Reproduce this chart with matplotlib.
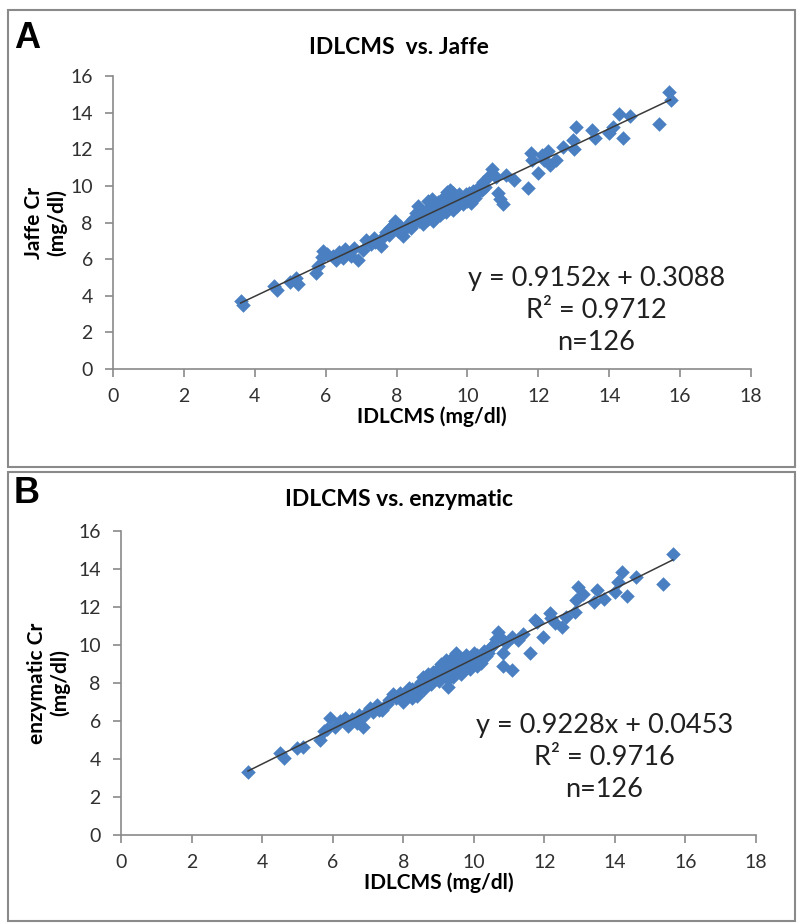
import matplotlib
matplotlib.use("Agg")
import matplotlib.pyplot as plt
from matplotlib.patches import Rectangle
import numpy as np

# IDLCMS vs. Jaffe (panel A)
jaffe_x = [3.60, 3.68, 4.55, 4.62, 4.98, 5.15, 5.22, 5.72, 5.78, 5.92, 5.90, 6.05, 6.28, 6.38, 6.50,
           6.55, 6.72, 6.80, 6.90, 7.05, 7.15, 7.28, 7.40, 7.55, 7.62, 7.70, 7.82, 7.90, 7.97, 8.05,
           8.18, 8.25, 8.35, 8.45, 8.55, 8.62, 8.68, 8.75, 8.82, 8.88, 8.95, 9.00, 9.04, 9.08, 9.12,
           9.18, 9.22, 9.28, 9.32, 9.38, 9.43, 9.48, 9.50, 9.55, 9.60, 9.65, 9.72, 9.80, 9.88, 9.95,
           10.05, 10.10, 10.20, 10.30, 10.40, 10.45, 10.60, 10.70, 10.80, 10.85, 10.92, 11.00, 11.10, 11.30, 11.70,
           11.78, 11.82, 12.00, 12.15, 12.28, 12.32, 12.50, 12.70, 12.98, 13.00, 13.05, 13.50, 13.60, 14.00, 14.10,
           14.27, 14.40, 14.60, 15.40, 15.68, 15.73, 8.10, 8.40, 8.50, 8.70, 8.80, 8.90, 9.00, 9.10, 9.15,
           9.25, 9.30, 9.35, 9.40, 9.45, 9.52, 9.58, 9.62, 9.70, 9.75, 9.85, 9.92, 10.00, 10.15, 10.25,
           10.50, 7.35, 6.20, 7.80, 8.60, 12.10]
jaffe_y = [3.70, 3.50, 4.55, 4.30, 4.75, 4.95, 4.65, 5.25, 5.60, 6.45, 6.10, 6.30, 5.95, 6.40, 6.05,
           6.55, 6.15, 6.60, 5.95, 6.50, 7.05, 6.80, 6.95, 6.70, 7.20, 7.50, 7.70, 7.85, 8.10, 7.55,
           7.25, 7.65, 7.95, 8.20, 8.50, 8.10, 8.70, 7.90, 8.35, 9.15, 8.85, 8.45, 8.10, 9.00, 8.65,
           9.10, 8.40, 8.85, 9.35, 8.75, 9.65, 9.20, 9.80, 8.95, 8.70, 9.45, 9.10, 9.40, 9.00, 9.55,
           9.60, 9.05, 9.35, 9.90, 9.80, 10.20, 10.55, 10.90, 10.50, 9.60, 9.30, 9.00, 10.60, 10.30, 9.90,
           11.80, 11.40, 10.70, 11.40, 11.90, 11.15, 11.40, 12.10, 12.50, 12.00, 13.20, 13.05, 12.60, 12.90, 13.20,
           13.90, 12.60, 13.80, 13.40, 15.14, 14.70, 7.80, 7.70, 8.00, 8.30, 8.60, 8.20, 9.30, 8.30, 8.80,
           9.20, 8.55, 9.00, 8.60, 9.40, 9.05, 9.60, 9.25, 8.90, 9.55, 9.20, 9.35, 9.20, 9.70, 9.55,
           9.95, 7.15, 6.15, 7.30, 8.90, 11.70]

# IDLCMS vs. enzymatic (panel B)
enz_x = [3.60, 4.50, 4.62, 4.98, 5.16, 5.64, 5.75, 5.92, 6.06, 6.35, 6.43, 6.68, 6.86, 6.86, 7.05,
         7.25, 7.40, 7.70, 7.90, 8.00, 8.24, 8.24, 8.56, 8.75, 8.84, 9.03, 9.26, 9.30, 9.50, 9.60,
         9.45, 9.65, 10.08, 10.08, 10.40, 10.45, 10.70, 10.74, 10.83, 10.83, 11.07, 11.07, 11.25, 11.60, 11.73,
         11.80, 11.95, 12.15, 12.30, 12.50, 12.60, 12.86, 12.90, 12.95, 13.40, 13.50, 14.00, 14.10, 14.20, 14.35,
         14.60, 15.35, 15.64, 6.20, 6.55, 7.15, 7.55, 7.80, 8.10, 8.35, 8.45, 8.60, 8.70, 8.80, 8.90,
         8.95, 9.00, 9.08, 9.12, 9.18, 9.22, 9.28, 9.33, 9.38, 9.42, 9.48, 9.52, 9.55, 9.62, 9.68,
         9.72, 9.78, 9.82, 9.88, 9.92, 9.98, 10.02, 10.15, 10.20, 10.28, 10.35, 10.55, 10.62, 8.50, 8.65,
         8.85, 9.05, 9.15, 9.35, 9.58, 9.75, 8.15, 7.95, 7.60, 7.30, 6.95, 6.75, 5.85, 10.90, 11.40,
         12.20, 13.10, 13.70, 9.90, 9.20, 8.40]
enz_y = [3.30, 4.30, 4.05, 4.60, 4.62, 5.00, 5.50, 6.15, 5.70, 6.15, 5.75, 5.90, 5.70, 6.20, 6.70,
         6.85, 6.60, 7.40, 7.50, 7.00, 7.20, 7.70, 8.30, 8.00, 8.60, 8.85, 7.80, 8.40, 9.60, 9.10,
         8.85, 8.50, 9.50, 8.90, 9.60, 9.85, 10.70, 10.40, 9.60, 8.90, 8.70, 10.40, 10.25, 9.60, 11.30,
         11.20, 10.40, 11.70, 11.15, 10.95, 11.50, 11.75, 12.35, 13.05, 12.25, 12.90, 12.80, 13.30, 13.85, 12.60,
         13.60, 13.20, 14.80, 6.00, 6.10, 6.50, 6.90, 7.20, 7.45, 7.55, 7.90, 7.70, 8.50, 7.95, 8.25,
         8.70, 8.10, 9.00, 8.40, 8.75, 9.20, 8.20, 8.95, 9.30, 8.30, 9.10, 8.65, 9.40, 8.95, 9.25,
         8.70, 9.45, 9.00, 8.75, 9.30, 9.10, 9.60, 9.35, 9.05, 9.70, 9.40, 10.00, 10.30, 8.05, 8.20,
         8.40, 8.55, 9.05, 8.60, 8.80, 9.15, 7.75, 7.30, 7.10, 6.60, 6.40, 6.30, 5.60, 10.10, 10.60,
         11.40, 12.70, 12.40, 8.95, 8.55, 7.30]

panels = [
    dict(letter="A", title="IDLCMS  vs. Jaffe", ylabel="Jaffe Cr\n(mg/dl)", x=jaffe_x, y=jaffe_y,
         slope=0.9152, icpt=0.3088, r2="0.9712", n=126,
         rect=[113 / 798, 1 - 369 / 923, 638 / 798, 293 / 923], ylab_x=-0.072,
         eq_xy=(13.64, 3.17), frame=(8, 10, 795, 467), title_y=47, letter_y=39),
    dict(letter="B", title="IDLCMS vs. enzymatic", ylabel="enzymatic Cr\n(mg/dl)", x=enz_x, y=enz_y,
         slope=0.9228, icpt=0.0453, r2="0.9716", n=126,
         rect=[121 / 798, 1 - 835 / 923, 635 / 798, 304 / 923], ylab_x=-0.080,
         eq_xy=(13.7, 4.1), frame=(8, 472, 795, 921), title_y=499, letter_y=494),
]

W, H = 798, 923
fig = plt.figure(figsize=(W / 100, H / 100), dpi=100)
font = "Lato"
gray = "#8a8a8a"
blue = "#4a80c2"

for p in panels:
    x0, y0, x1, y1 = p["frame"]
    fig.patches.append(Rectangle((x0 / W, 1 - y1 / H), (x1 - x0) / W, (y1 - y0) / H,
                                 transform=fig.transFigure, fill=False, edgecolor=gray, lw=1.5))
    fig.text(14 / W, 1 - p["letter_y"] / H, p["letter"], fontsize=26, fontweight="bold",
             family="Liberation Sans", va="center", ha="left")
    fig.text(0.5, 1 - p["title_y"] / H, p["title"], fontsize=16.5, fontweight="bold",
             family=font, ha="center", va="center")

    ax = fig.add_axes(p["rect"])
    ax.scatter(p["x"], p["y"], marker="D", s=55, color=blue, linewidths=0, zorder=2)
    xs = np.array([min(p["x"]), max(p["x"])])
    ax.plot(xs, p["slope"] * xs + p["icpt"], color="#3a3a3a", lw=1.1, zorder=3)

    ax.set_xlim(0, 18)
    ax.set_ylim(0, 16)
    ax.set_xticks(range(0, 19, 2))
    ax.set_yticks(range(0, 17, 2))
    for s in ["top", "right"]:
        ax.spines[s].set_visible(False)
    for s in ["left", "bottom"]:
        ax.spines[s].set_color(gray)
        ax.spines[s].set_linewidth(1.2)
    ax.tick_params(axis="both", direction="out", length=5.5, width=1.2, color=gray,
                   labelsize=14, labelcolor="#303030")
    ax.tick_params(axis="y", pad=9)
    ax.tick_params(axis="x", pad=8)
    for lab in ax.get_xticklabels() + ax.get_yticklabels():
        lab.set_family(font)

    ax.set_xlabel("IDLCMS (mg/dl)", fontsize=15, fontweight="bold", family=font, labelpad=1)
    ax.set_ylabel(p["ylabel"], fontsize=15, fontweight="bold", family=font, linespacing=1.15)
    ax.yaxis.set_label_coords(p["ylab_x"], 0.5)

    ax.text(p["eq_xy"][0], p["eq_xy"][1],
            "y = %.4fx + %.4f\nR² = %s\nn=%d" % (p["slope"], p["icpt"], p["r2"], p["n"]),
            fontsize=19.5, family=font, ha="center", va="center", linespacing=1.35, color="#202020")

fig.savefig("out.png", dpi=100)
